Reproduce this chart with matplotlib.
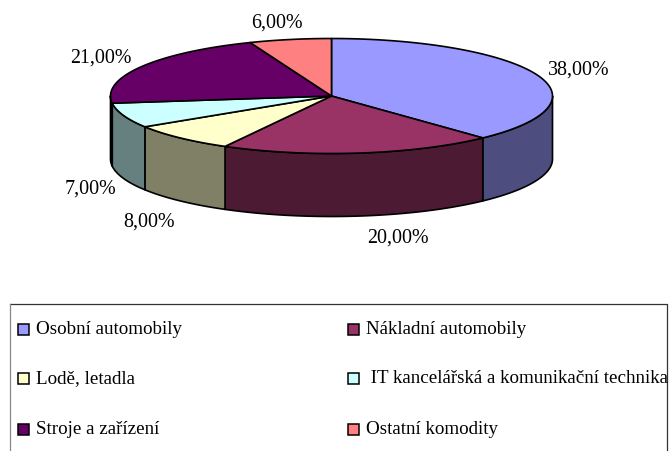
import numpy as np
import matplotlib
matplotlib.use('Agg')
from matplotlib import pyplot as plt
from matplotlib.patches import Rectangle

# data
labels = ['Osobní automobily', 'Nákladní automobily', 'Lodě, letadla',
          ' IT kancelářská a komunikační technika', 'Stroje a zařízení', 'Ostatní komodity']
values = [38, 20, 8, 7, 21, 6]

# styles
top_colors = ['#9999FF', '#993366', '#FFFFCC', '#CCFFFF', '#660066', '#FF8080']
side_colors = ['#4D4D80', '#4D1A33', '#808066', '#668080', '#330033', '#804040']
label_xy = [(579, 70), (398, 238), (149, 222), (90, 189), (101, 58), (277, 23)]
legend_xy = [(17, 331), (347, 331), (17, 380), (347, 380), (17, 431), (347, 431)]

cx, cy, rx, ry, depth = 331.5, 97, 221, 57.5, 63
edge = dict(edgecolor='black', linewidth=1.2, joinstyle='round')

plt.rcParams['font.family'] = ['Liberation Serif', 'DejaVu Serif']
fig = plt.figure(figsize=(6.7, 4.52), dpi=100)
ax = fig.add_axes([0, 0, 1, 1])
ax.set_xlim(0, 670)
ax.set_ylim(452, 0)
ax.axis('off')

# sudut irisan, searah jarum jam dari atas
bounds = np.radians(np.cumsum([0] + values) * 3.6)


def rim(a0, a1):
    t = np.linspace(a0, a1, 80)
    return cx + rx * np.sin(t), cy - ry * np.cos(t)


# sisi depan
for i in range(len(values)):
    a0 = max(bounds[i], np.pi / 2)
    a1 = min(bounds[i + 1], 3 * np.pi / 2)
    if a1 <= a0:
        continue
    x, y = rim(a0, a1)
    ax.fill(np.r_[x, x[::-1]], np.r_[y, y[::-1] + depth],
            facecolor=side_colors[i], zorder=2, **edge)

# permukaan atas
for i in range(len(values)):
    x, y = rim(bounds[i], bounds[i + 1])
    ax.fill(np.r_[cx, x], np.r_[cy, y], facecolor=top_colors[i], zorder=3, **edge)

for v, (x, y) in zip(values, label_xy):
    ax.text(x, y, f'{v:.2f}%'.replace('.', ','), ha='center', va='center', fontsize=14.4, color='black')

# legenda
ax.plot([10, 667, 667], [305, 305, 452], color='#333333', linewidth=0.9, zorder=1)
ax.plot([10, 10], [305, 452], color='#888888', linewidth=0.9, zorder=1)
for name, color, (x, y) in zip(labels, top_colors, legend_xy):
    ax.add_patch(Rectangle((x + 0.5, y - 6), 11, 11, facecolor=color, edgecolor='black',
                           linewidth=1.1, zorder=3))
    ax.text(x + 19, y - 1, name, ha='left', va='center', fontsize=13.7, color='black', zorder=3)

fig.savefig('out.png', dpi=100)
